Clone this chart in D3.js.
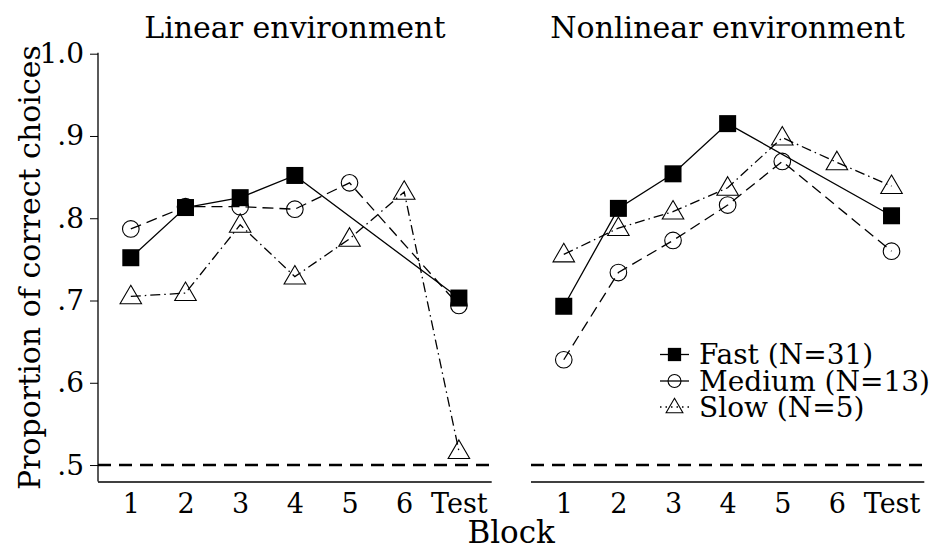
<!DOCTYPE html>
<html>
<head>
<meta charset="utf-8">
<script src="https://cdn.jsdelivr.net/npm/d3@7/dist/d3.min.js"></script>
<style>
  html, body { margin: 0; padding: 0; background: #fff; }
  svg text { font-family: "DejaVu Serif", "Liberation Serif", serif; fill: #000; }
</style>
</head>
<body>
<svg id="chart" width="935" height="549"></svg>
<script>
// Block labels on the x axis
const blocks = ["1", "2", "3", "4", "5", "6", "Test"];
const panelTitles = ["Linear environment", "Nonlinear environment"];
const yTicks = [0.5, 0.6, 0.7, 0.8, 0.9, 1.0];
const yTickLabels = [".5", ".6", ".7", ".8", ".9", "1.0"];
const chanceLevel = 0.5;

// Group labels
const groupNames = ["Fast (N=31)", "Medium (N=13)", "Slow (N=5)"];

// Proportion of correct choices per block (null = no data for that block)
const fastLinear     = [0.752, 0.813, 0.825, 0.852, null, null, 0.703];
const mediumLinear   = [0.787, 0.814, 0.814, 0.811, 0.843, null, 0.694];
const slowLinear     = [0.705, 0.709, 0.792, 0.729, 0.775, 0.832, 0.517];
const fastNonlinear   = [0.693, 0.812, 0.854, 0.915, null, null, 0.803];
const mediumNonlinear = [0.628, 0.734, 0.773, 0.816, 0.869, null, 0.760];
const slowNonlinear   = [0.756, 0.788, 0.808, 0.837, 0.898, 0.868, 0.839];

const panelData = [
  [fastLinear, mediumLinear, slowLinear],
  [fastNonlinear, mediumNonlinear, slowNonlinear]
];

const svg = d3.select("#chart");

const yScale = d3.scaleLinear().domain([0.48, 1.0]).range([481.5, 53.7]);
const panelRanges = [[98, 491.7], [531, 924.3]];

const groupStyles = [
  { dash: null, marker: "square" },
  { dash: "11,6", marker: "circle" },
  { dash: "10,4,1.5,4", marker: "triangle" }
];

function drawMarker(g, type, x, y, s = 1) {
  if (type === "square") {
    const a = 17 * s;
    g.append("rect").attr("x", x - a / 2).attr("y", y - a / 2)
      .attr("width", a).attr("height", a).attr("fill", "#000");
  } else if (type === "circle") {
    g.append("circle").attr("cx", x).attr("cy", y).attr("r", 8.3 * s)
      .attr("fill", "none").attr("stroke", "#000").attr("stroke-width", 1.1);
  } else {
    const w = 21.5 * s, h = 18.5 * s;
    const pts = [[x, y - h * 0.6], [x + w / 2, y + h * 0.4], [x - w / 2, y + h * 0.4]];
    g.append("polygon").attr("points", pts.map(p => p.join(",")).join(" "))
      .attr("fill", "none").attr("stroke", "#000").attr("stroke-width", 1.1);
  }
}

panelData.forEach((series, pi) => {
  const [x0, x1] = panelRanges[pi];
  const xScale = d3.scaleLinear().domain([0.4, 7.6]).range([x0, x1]);
  const g = svg.append("g");

  // Panel title
  g.append("text")
    .attr("x", xScale(4)).attr("y", 38)
    .attr("text-anchor", "middle").attr("font-size", 30)
    .text(panelTitles[pi]);

  // x axis (line + block labels, no tick marks)
  const xAxis = d3.axisBottom(xScale)
    .tickValues(d3.range(1, 8))
    .tickFormat((d, i) => blocks[i])
    .tickSize(0).tickPadding(0);
  const xa = g.append("g").attr("transform", "translate(0,482)").call(xAxis);
  xa.select(".domain").attr("d", `M${x0},0H${x1}`).attr("stroke", "#000").attr("stroke-width", 1.3);
  xa.selectAll("text").attr("font-size", 27).attr("font-family", "DejaVu Serif, serif")
    .attr("y", 31).attr("dy", null);

  // y axis only on the left panel
  if (pi === 0) {
    const yAxis = d3.axisLeft(yScale)
      .tickValues(yTicks)
      .tickFormat((d, i) => yTickLabels[i])
      .tickSize(8).tickPadding(6);
    const ya = g.append("g").attr("transform", `translate(${x0},0)`).call(yAxis);
    ya.select(".domain").attr("d", `M0,${yScale(1.0) - 1}V${yScale(0.48)}`)
      .attr("stroke", "#000").attr("stroke-width", 1.3);
    ya.selectAll(".tick line").attr("stroke", "#000").attr("stroke-width", 1);
    ya.selectAll("text").attr("font-size", 28).attr("font-family", "DejaVu Serif, serif");
  }

  // Chance level reference line
  g.append("line")
    .attr("x1", x0).attr("x2", x1)
    .attr("y1", yScale(chanceLevel)).attr("y2", yScale(chanceLevel))
    .attr("stroke", "#000").attr("stroke-width", 2.6)
    .attr("stroke-dasharray", "13,8");

  // Group lines and markers
  series.forEach((vals, si) => {
    const pts = vals.map((v, i) => ({ x: i + 1, v })).filter(d => d.v !== null);
    const line = d3.line().x(d => xScale(d.x)).y(d => yScale(d.v));
    const path = g.append("path").datum(pts)
      .attr("d", line)
      .attr("fill", "none").attr("stroke", "#000").attr("stroke-width", 1.3);
    if (groupStyles[si].dash) path.attr("stroke-dasharray", groupStyles[si].dash);
    pts.forEach(d => drawMarker(g, groupStyles[si].marker, xScale(d.x), yScale(d.v)));
  });
});

// Axis titles: centred on the whole plotting area
svg.append("text")
  .attr("x", (panelRanges[0][0] + panelRanges[1][1]) / 2).attr("y", 543)
  .attr("text-anchor", "middle").attr("font-size", 31)
  .text("Block");
svg.append("text")
  .attr("transform", `translate(40,${(yScale(1.0) + yScale(0.48)) / 2}) rotate(-90)`)
  .attr("text-anchor", "middle").attr("font-size", 30)
  .text("Proportion of correct choices");

// Legend
const legendBaselines = [364, 390.5, 416.5];
const legend = svg.append("g");
groupNames.forEach((name, i) => {
  const y = legendBaselines[i] - 9.5;
  const ln = legend.append("line")
    .attr("x1", 660).attr("x2", 689).attr("y1", y).attr("y2", y)
    .attr("stroke", "#000").attr("stroke-width", 1.3);
  if (groupStyles[i].dash) ln.attr("stroke-dasharray", i === 1 ? "29" : "1.5,4");
  drawMarker(legend, groupStyles[i].marker, 674.5, y, 0.78);
  legend.append("text")
    .attr("x", 699).attr("y", legendBaselines[i])
    .attr("font-size", 28)
    .text(name);
});
</script>
</body>
</html>
